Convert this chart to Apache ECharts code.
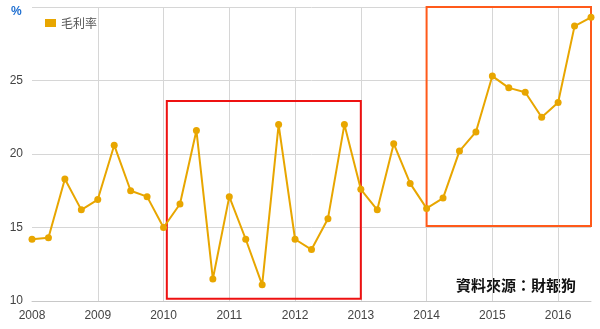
<!DOCTYPE html>
<html><head><meta charset="utf-8">
<script src="https://cdn.jsdelivr.net/npm/echarts@6/dist/echarts.min.js"></script>
<style>html,body{margin:0;padding:0;background:#fff}#c{width:600px;height:329px}</style>
</head><body><div id="c"></div>
<script>
// Quarterly gross margin (%) from 2008 Q1 to 2016 Q3
const startYear = 2008;
const quarterStep = 0.25;
const grossMargin = [
  14.2, 14.3, 18.3, 16.2,
  16.9, 20.6, 17.5, 17.1,
  15.0, 16.6, 21.6, 11.5,
  17.1, 14.2, 11.1, 22.0,
  14.2, 13.5, 15.6, 22.0,
  17.6, 16.2, 20.7, 18.0,
  16.3, 17.0, 20.2, 21.5,
  25.3, 24.5, 24.2, 22.5,
  23.5, 28.7, 29.3
];
const seriesName = '毛利率';
const yTicks = [10, 15, 20, 25, 30];
const xYears = [2008, 2009, 2010, 2011, 2012, 2013, 2014, 2015, 2016];
// annotation boxes [x0, y0, x1, y1] in data units
const redBox = [2010.05, 23.6, 2013.0, 10.15];
const orangeBox = [2014.0, 30.05, 2016.58, 15.1];
const sourceText = '資料來源：財報狗';

const pts = grossMargin.map((v, i) => [startYear + i * quarterStep, v]);
const chart = echarts.init(document.getElementById('c'), null, {renderer: 'canvas'});
const latin = '"Liberation Sans", Arial, sans-serif';
const cjk = '"Noto Sans CJK TC", "Noto Sans CJK SC", sans-serif';
chart.setOption({
  animation: false,
  backgroundColor: '#fff',
  grid: {left: 32, right: 9, top: 7, bottom: 28, containLabel: false},
  legend: {
    left: 40, top: 12, icon: 'rect', itemWidth: 11, itemHeight: 8, itemGap: 6,
    textStyle: {color: '#555', fontSize: 12, fontFamily: cjk},
    data: [seriesName]
  },
  xAxis: {
    type: 'value', min: xYears[0], max: 2016.5, interval: 1,
    axisLine: {show: true, lineStyle: {color: '#c8c8c8', width: 1}},
    axisTick: {show: false},
    axisLabel: {
      color: '#444', fontSize: 12, fontFamily: latin, margin: 9,
      formatter: v => (xYears.indexOf(v) >= 0 ? String(v) : '')
    },
    splitLine: {show: true, showMinLine: false, showMaxLine: false, lineStyle: {color: '#d6d6d6', width: 1}}
  },
  yAxis: {
    type: 'value', min: yTicks[0], max: yTicks[yTicks.length - 1], interval: 5,
    axisLine: {show: false}, axisTick: {show: false},
    axisLabel: {
      color: '#444', fontSize: 12, fontFamily: latin, margin: 9,
      formatter: v => (v === 30 ? '' : String(v))
    },
    splitLine: {show: true, lineStyle: {color: '#d6d6d6', width: 1}}
  },
  series: [{
    name: seriesName, type: 'line', data: pts, clip: false,
    color: '#E8A600',
    lineStyle: {color: '#E8A600', width: 2},
    symbol: 'circle', symbolSize: 7, showSymbol: true,
    itemStyle: {color: '#E8A600'},
    markArea: {
      silent: true,
      data: [
        [{coord: [redBox[0], redBox[1]], itemStyle: {color: 'rgba(0,0,0,0)', borderColor: '#ee1111', borderWidth: 2}},
         {coord: [redBox[2], redBox[3]]}],
        [{coord: [orangeBox[0], orangeBox[1]], itemStyle: {color: 'rgba(0,0,0,0)', borderColor: '#ff5a1a', borderWidth: 2}},
         {coord: [orangeBox[2], orangeBox[3]]}]
      ]
    }
  }],
  graphic: [
    {type: 'text', left: 11, top: 6, style: {text: '%', fill: '#1f6fd1', font: 'bold 12px ' + latin}},
    {type: 'text', left: 456, top: 278, style: {text: sourceText, fill: '#111', font: 'bold 15px ' + cjk}}
  ]
});
</script></body></html>
